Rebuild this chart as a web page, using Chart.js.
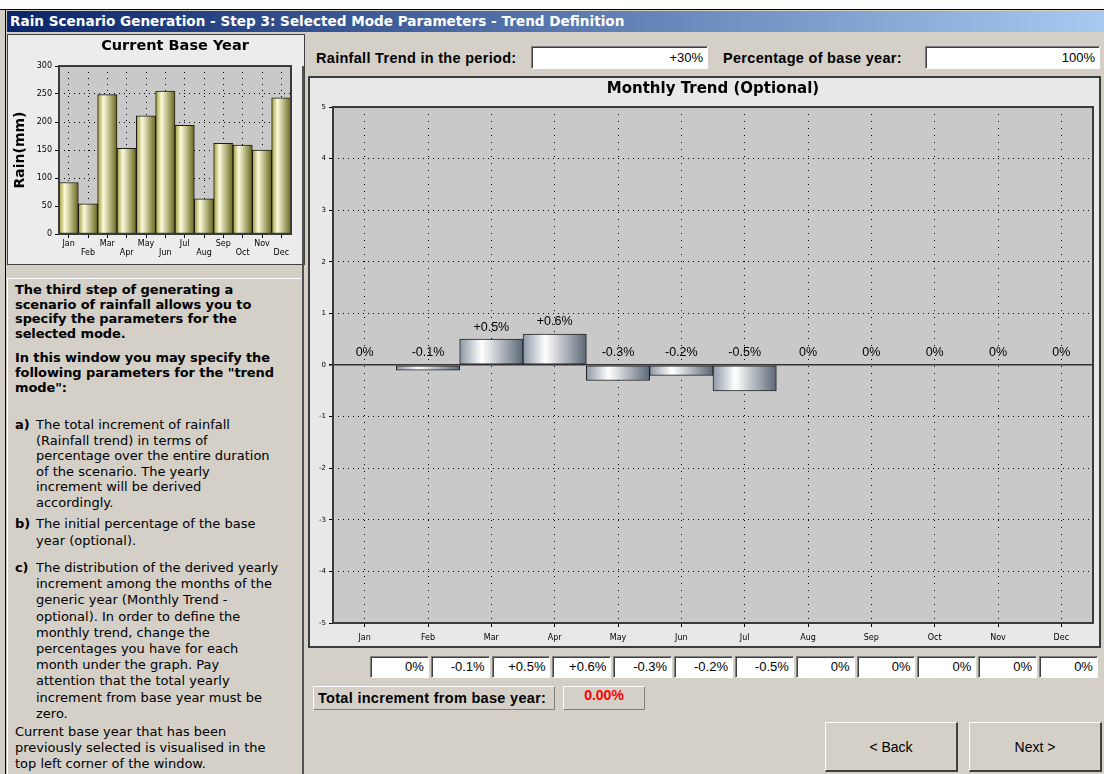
<!DOCTYPE html>
<html>
<head>
<meta charset="utf-8">
<title>Rain Scenario Generation - Step 3</title>
<script src="https://cdn.jsdelivr.net/npm/chart.js@4.4.0/dist/chart.umd.min.js"></script>
<style>
  body { margin: 0; width: 1104px; height: 774px; background: #d4d0c8; position: relative; overflow: hidden;
         font-family: "DejaVu Sans", sans-serif; color: #000; }
  .abs { position: absolute; }
  #topstrip { left: 0; top: 0; width: 1104px; height: 9px; background: #fff; border-bottom: 1px solid #000; }
  #leftline { left: 5px; top: 9px; width: 1px; height: 765px; background: #000; }
  #titlebar { left: 7px; top: 11px; width: 1097px; height: 21px; background: linear-gradient(to right, #0a246a, #a6caf0);
              color: #fff; font: bold 13.6px "DejaVu Sans", sans-serif; line-height: 21px; padding-left: 3px; box-sizing: border-box; white-space: nowrap; }
  #smallPanel { left: 7px; top: 34px; width: 298px; height: 231px; background: #ececec; border: 1px solid #404040; box-sizing: border-box; }
  #smallPanel canvas { position: absolute; left: 1px; top: 1px; }
  #splitter { left: 302px; top: 66px; width: 2px; height: 708px; background: #505050; }
  #textPanel { left: 7px; top: 278px; width: 294px; height: 496px; border-top: 1px solid #fff; border-left: 1px solid #fff; box-sizing: border-box; }
  .txt { position: absolute; white-space: nowrap; font-size: 13px; letter-spacing: 0; }
  .bold { font-weight: bold; font-size: 13px; letter-spacing: -0.1px; }
  .lab { position: absolute; white-space: nowrap; font: bold 14.5px "Liberation Sans", sans-serif; letter-spacing: 0.3px; }
  .field { position: absolute; background: #fff; box-sizing: border-box; border-top: 1px solid #808080; border-left: 1px solid #808080;
           border-bottom: 1px solid #fff; border-right: 1px solid #fff; box-shadow: inset 1px 1px 0 #404040;
           text-align: right; padding-right: 4px; font: 13px "Liberation Sans", sans-serif; white-space: nowrap; }
  #mainPanel { left: 308px; top: 76px; width: 793px; height: 572px; background: #e8e8e8; border: 2px solid #3c3c3c; box-sizing: border-box; }
  #mainPanel canvas { position: absolute; left: 0; top: 0; }
  #monthFields { left: 370px; top: 656px; width: 728px; height: 22px; display: flex; gap: 2px; }
  #monthFields .field { position: relative; flex: 1; height: 22px; line-height: 20px; }
  .raised { position: absolute; box-sizing: border-box; border-top: 1px solid #fff; border-left: 1px solid #fff;
            border-bottom: 1px solid #808080; border-right: 1px solid #808080; white-space: nowrap; }
  .btn { position: absolute; box-sizing: border-box; background: #d4d0c8; border-top: 1px solid #fff; border-left: 1px solid #fff;
         border-bottom: 2px solid #404040; border-right: 2px solid #404040; text-align: center; font: 14px "Liberation Sans", sans-serif; }
</style>
</head>
<body>
<div id="topstrip" class="abs"></div>
<div id="leftline" class="abs"></div>
<div id="titlebar" class="abs">Rain Scenario Generation - Step 3: Selected Mode Parameters - Trend Definition</div>

<div id="smallPanel" class="abs"><canvas id="baseChart" width="294" height="227"></canvas></div>
<div id="splitter" class="abs"></div>

<div id="textPanel" class="abs"></div>
<div class="txt bold" style="left:15px; top:283px; line-height:14.5px;">The third step of generating a<br>scenario of rainfall allows you to<br>specify the parameters for the<br>selected mode.</div>
<div class="txt bold" style="left:15px; top:350px; line-height:15px;">In this window you may specify the<br>following parameters for the "trend<br>mode":</div>
<div class="txt bold" style="left:15px; top:417px; line-height:15.5px;">a)</div>
<div class="txt" style="left:36px; top:417px; line-height:15.5px;">The total increment of rainfall<br>(Rainfall trend) in terms of<br>percentage over the entire duration<br>of the scenario. The yearly<br>increment will be derived<br>accordingly.</div>
<div class="txt bold" style="left:15px; top:516px; line-height:16px;">b)</div>
<div class="txt" style="left:36px; top:516px; line-height:16.5px;">The initial percentage of the base<br>year (optional).</div>
<div class="txt bold" style="left:15px; top:560px; line-height:16.2px;">c)</div>
<div class="txt" style="left:36px; top:560px; line-height:16.2px;">The distribution of the derived yearly<br>increment among the months of the<br>generic year (Monthly Trend -<br>optional). In order to define the<br>monthly trend, change the<br>percentages you have for each<br>month under the graph. Pay<br>attention that the total yearly<br>increment from base year must be<br>zero.</div>
<div class="txt" style="left:15px; top:724px; line-height:16px;">Current base year that has been<br>previously selected is visualised in the<br>top left corner of the window.</div>

<div class="lab" style="left:316px; top:50px;">Rainfall Trend in the period:</div>
<div class="field" id="trendField" style="left:531px; top:46px; width:177px; height:23px; line-height:21px;"></div>
<div class="lab" style="left:723px; top:50px;">Percentage of base year:</div>
<div class="field" id="baseField" style="left:925px; top:46px; width:175px; height:23px; line-height:21px;"></div>

<div id="mainPanel" class="abs"><canvas id="trendChart" width="789" height="568"></canvas></div>

<div id="monthFields" class="abs"></div>

<div class="raised lab" style="left:313px; top:686px; width:242px; height:24px; line-height:22px; padding-left:4px;">Total increment from base year:</div>
<div class="raised" id="totalField" style="left:563px; top:686px; width:82px; height:24px; line-height:22px; text-align:center; color:#ff0000; font:bold 14px 'Liberation Sans', sans-serif;"></div>

<div class="btn" style="left:825px; top:722px; width:133px; height:50px; line-height:48px;">&lt; Back</div>
<div class="btn" style="left:969px; top:722px; width:133px; height:50px; line-height:48px;">Next &gt;</div>

<script>
// data
const months = ["Jan", "Feb", "Mar", "Apr", "May", "Jun", "Jul", "Aug", "Sep", "Oct", "Nov", "Dec"];
const baseRain = [92, 54, 249, 153, 211, 255, 194, 63, 162, 159, 150, 243];
const monthlyTrend = [0, -0.1, 0.5, 0.6, -0.3, -0.2, -0.5, 0, 0, 0, 0, 0];
const rainfallTrend = "+30%";
const baseYearPct = "100%";
const totalIncrement = "0.00%";

function pct(v) {
  if (v === 0) return "0%";
  return (v > 0 ? "+" : "") + v.toFixed(1) + "%";
}

// fill the text boxes
document.getElementById("trendField").textContent = rainfallTrend;
document.getElementById("baseField").textContent = baseYearPct;
document.getElementById("totalField").textContent = totalIncrement;
const mf = document.getElementById("monthFields");
monthlyTrend.forEach(v => {
  const d = document.createElement("div");
  d.className = "field";
  d.textContent = pct(v);
  mf.appendChild(d);
});

Chart.defaults.font.family = '"DejaVu Sans", sans-serif';
Chart.defaults.color = "#000";

// horizontal gradient across each bar (3D cylinder look)
function barGradient(stops) {
  return function (c) {
    const chart = c.chart;
    if (!chart.chartArea || c.type !== "data") return stops[1][1];
    const x = chart.scales.x;
    const w = x.width / months.length;
    const cx = x.getPixelForValue(c.dataIndex);
    const g = chart.ctx.createLinearGradient(cx - w / 2, 0, cx + w / 2, 0);
    stops.forEach(s => g.addColorStop(s[0], s[1]));
    return g;
  };
}

// plot background + frame
const plotFrame = {
  id: "plotFrame",
  beforeDraw(chart, args, opts) {
    const { ctx, chartArea: a } = chart;
    ctx.save();
    ctx.fillStyle = opts.fill;
    ctx.fillRect(a.left, a.top, a.width, a.height);
    ctx.restore();
  },
  afterDraw(chart) {
    const { ctx, chartArea: a } = chart;
    ctx.save();
    ctx.strokeStyle = "#3a3a3a";
    ctx.lineWidth = 2;
    ctx.strokeRect(a.left, a.top, a.width, a.height);
    ctx.restore();
  }
};

// value labels over the trend bars
const trendLabels = {
  id: "trendLabels",
  afterDatasetsDraw(chart) {
    const ctx = chart.ctx;
    const y0 = chart.scales.y.getPixelForValue(0);
    ctx.save();
    ctx.font = '12.5px "Liberation Sans", sans-serif';
    ctx.textAlign = "center";
    ctx.textBaseline = "middle";
    ctx.fillStyle = "#000";
    chart.getDatasetMeta(0).data.forEach((bar, i) => {
      ctx.fillText(pct(monthlyTrend[i]), bar.x, Math.min(bar.y, y0) - 12);
    });
    ctx.restore();
  }
};

// small chart: current base year
new Chart(document.getElementById("baseChart"), {
  type: "bar",
  data: {
    labels: months,
    datasets: [{
      data: baseRain,
      backgroundColor: barGradient([[0, "#9c9c3a"], [0.3, "#fbfbdc"], [1, "#66661a"]]),
      borderColor: "#1a1a1a",
      borderWidth: 1,
      borderSkipped: false,
      barPercentage: 1,
      categoryPercentage: 1
    }]
  },
  options: {
    responsive: false,
    animation: false,
    layout: { padding: { right: 12 } },
    plugins: {
      legend: { display: false },
      tooltip: { enabled: false },
      title: { display: true, fullSize: false, text: "Current Base Year", font: { size: 14.5, weight: "bold" }, padding: { top: 2, bottom: 10.6 }, color: "#000" },
      plotFrame: { fill: "#c9c9c9" }
    },
    scales: {
      x: {
        afterFit: s => { s.height = 29; },
        grid: { offset: false, color: "#000", tickLength: 4, tickColor: "#000" },
        border: { display: false, dash: [1, 5] },
        ticks: {
          autoSkip: false, maxRotation: 0, padding: 2,
          font: { size: 8, lineHeight: 1.1 },
          callback: (v, i) => (i % 2 === 0 ? [months[i], ""] : ["", months[i]])
        }
      },
      y: {
        min: 0, max: 300,
        afterFit: s => { s.width = 50; },
        grid: { color: "#000", tickLength: 4, tickColor: "#000" },
        border: { display: false, dash: [1, 4] },
        ticks: { stepSize: 50, padding: 3, font: { size: 8 } },
        title: { display: true, text: "Rain(mm)", font: { size: 14, weight: "bold" }, padding: { top: 3, bottom: 0 } }
      }
    }
  },
  plugins: [plotFrame]
});

// main chart: monthly trend
new Chart(document.getElementById("trendChart"), {
  type: "bar",
  data: {
    labels: months,
    datasets: [{
      data: monthlyTrend,
      backgroundColor: barGradient([[0, "#8e98a6"], [0.35, "#ffffff"], [1, "#5c6876"]]),
      borderColor: "#222",
      borderWidth: 1,
      borderSkipped: false,
      barPercentage: 1,
      categoryPercentage: 1
    }]
  },
  options: {
    responsive: false,
    animation: false,
    layout: { padding: { right: 6 } },
    plugins: {
      legend: { display: false },
      tooltip: { enabled: false },
      title: { display: true, fullSize: false, text: "Monthly Trend (Optional)", font: { size: 15, weight: "bold" }, padding: { top: 2, bottom: 9 }, color: "#000" },
      plotFrame: { fill: "#c9c9c9" }
    },
    scales: {
      x: {
        afterFit: s => { s.height = 23; },
        grid: { offset: false, color: "#000", tickLength: 4, tickColor: "#000" },
        border: { display: false, dash: [1, 6] },
        ticks: { autoSkip: false, maxRotation: 0, padding: 6, font: { size: 8 } }
      },
      y: {
        min: -5, max: 5,
        afterFit: s => { s.width = 23; },
        grid: {
          color: c => (c.tick && c.tick.value === 0 ? "#333" : "#000"),
          lineWidth: c => (c.tick && c.tick.value === 0 ? 1.5 : 1),
          tickLength: 4, tickColor: "#000"
        },
        border: { display: false, dash: c => (c.tick && c.tick.value === 0 ? [] : [1, 4]) },
        ticks: { stepSize: 1, padding: 3, font: { size: 7 } }
      }
    }
  },
  plugins: [plotFrame, trendLabels]
});
</script>
</body>
</html>
